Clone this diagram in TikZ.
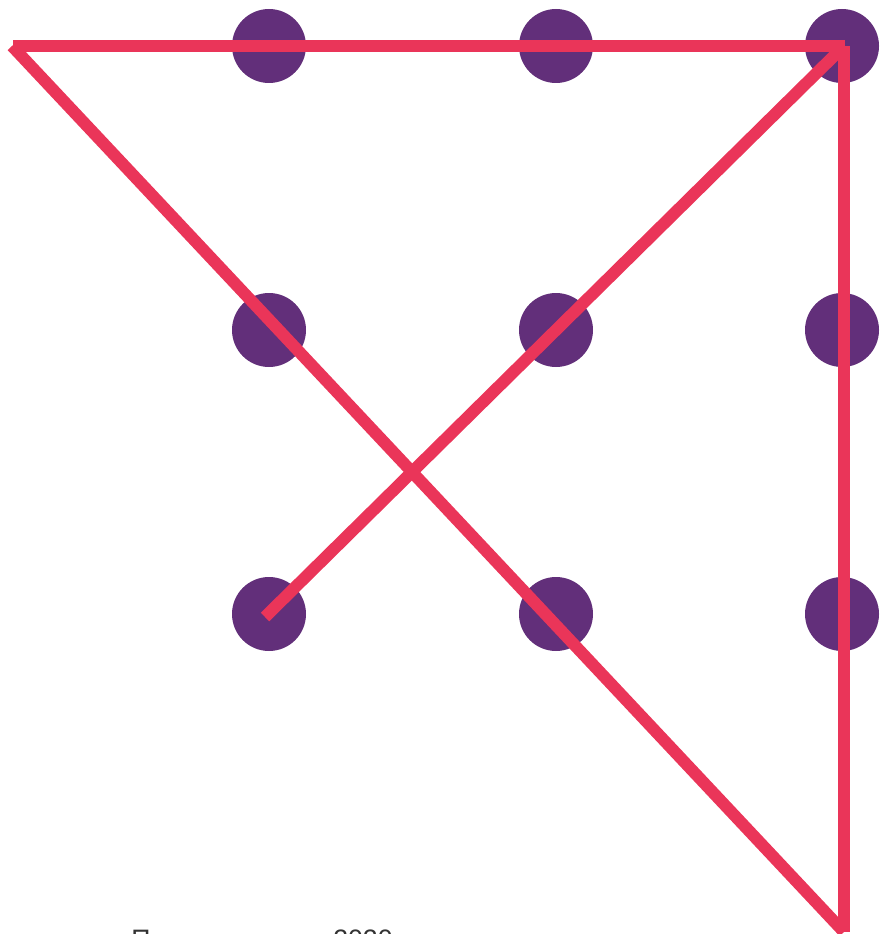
\documentclass[tikz,border=0pt]{standalone}
\usepackage{fontspec}
\setmainfont{Liberation Sans}
\usepackage{tikz}
\definecolor{dotpurple}{HTML}{622F7A}
\definecolor{linered}{HTML}{EA3559}
\definecolor{textgray}{HTML}{333333}
\tikzset{
  dot/.style={circle, fill=dotpurple, inner sep=0pt, minimum size=55.5pt},
  stroke/.style={linered, line width=9pt, line cap=butt},
  caption/.style={font=\fontsize{20}{24}\selectfont, text=textgray, inner sep=0pt, anchor=base west}
}
\begin{document}
\begin{tikzpicture}[x=0.75pt, y=-0.75pt]
  \useasboundingbox (0,0) rectangle (879,934);
  \clip (0,0) rectangle (879,934);
  % nine dots
  \foreach \col/\xx in {1/269,2/556,3/842}{
    \foreach \row/\yy in {1/46,2/330,3/614}{
      \node[dot] (d\row\col) at (\xx,\yy) {};
    }
  }
  % corners of the four strokes
  \coordinate (left) at (12,46);
  \coordinate (topright) at (844,46);
  \coordinate (bottomright) at (844,932);
  \coordinate (start) at (265,617);
  \draw[stroke] (start) -- (topright);
  \draw[stroke, line cap=square] (topright) -- (bottomright);
  \draw[stroke] (left) -- (bottomright);
  \draw[stroke] (13,46) -- (845,46);
  % caption, cut by the lower edge
  \node[caption] (capa) at (131,948) {П};
  \node[caption] (capb) at (333,948) {2020};
\end{tikzpicture}
\end{document}
